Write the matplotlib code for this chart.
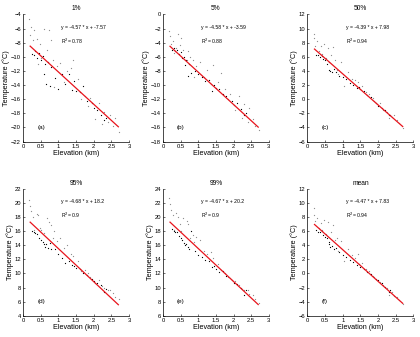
import matplotlib
matplotlib.use("Agg")
import matplotlib.pyplot as plt

plt.rcParams["font.family"] = ["Liberation Sans", "DejaVu Sans"]

# station elevations (km), two groups of stations
elev_black = [0.25,0.3,0.35,0.4,0.45,0.5,0.55,0.6,0.62,0.65,0.7,0.75,0.8,0.9,1.0,
              1.1,1.2,1.3,1.4,1.45,1.5,1.6,1.7,1.8,1.95,2.0,2.1,2.2,2.3,2.35]
elev_gray = [0.18,0.2,0.22,0.28,0.32,0.38,0.42,0.48,0.52,0.58,0.68,0.72,0.78,0.85,0.88,
             0.95,1.05,1.15,1.25,1.35,1.42,1.55,1.65,1.75,1.85,1.9,2.05,2.15,2.25,2.3,
             2.4,2.45,2.55,2.6,2.72]

titles = ["1%", "5%", "50%", "95%", "99%", "mean"]
letters = ["(a)", "(b)", "(c)", "(d)", "(e)", "(f)"]
slopes = [-4.57, -4.58, -4.39, -4.68, -4.67, -4.47]
intercepts = [-7.57, -3.59, 7.98, 18.2, 20.2, 7.83]
eq_text = ["y = -4.57 * x + -7.57", "y = -4.58 * x + -3.59", "y = -4.39 * x + 7.98",
           "y = -4.68 * x + 18.2", "y = -4.67 * x + 20.2", "y = -4.47 * x + 7.83"]
r2 = ["0.78", "0.88", "0.94", "0.9", "0.9", "0.94"]
ylims = [(-22, -4), (-18, 0), (-6, 12), (4, 22), (6, 24), (-6, 12)]

temp_black = [
    [-9.6,-9.7,-9.2,-10.1,-9.5,-10.4,-9.9,-12.5,-11.0,-13.8,-10.8,-14.2,-11.5,-13.0,-14.6,
     -12.4,-13.8,-12.5,-14.7,-13.4,-14.8,-15.0,-14.2,-16.3,-16.6,-17.2,-17.5,-18.3,-19.0,-18.6],
    [-5.0,-4.8,-5.2,-5.1,-5.6,-5.3,-6.2,-6.0,-7.2,-6.4,-8.7,-7.0,-8.3,-8.0,-8.4,
     -8.8,-9.4,-9.3,-10.8,-10.0,-10.4,-10.6,-11.3,-11.5,-12.2,-12.8,-12.6,-13.4,-14.2,-13.9],
    [6.3,6.2,6.0,6.1,5.7,5.5,5.0,5.2,4.2,4.0,3.8,4.3,3.9,3.3,3.2,
     2.8,2.3,2.0,1.6,1.7,1.5,1.1,0.6,0.3,-0.6,-0.9,-1.2,-1.6,-2.2,-2.3],
    [16.0,15.9,15.7,15.6,15.0,14.8,14.5,14.2,13.8,14.1,13.6,14.3,13.4,13.5,12.8,
     12.2,11.5,11.8,11.2,11.0,10.7,10.6,10.1,9.8,9.2,8.9,8.6,8.3,7.3,7.8],
    [18.3,18.0,17.8,17.9,17.3,17.0,16.8,16.3,16.0,16.2,15.8,15.5,18.0,15.2,14.6,
     14.3,13.9,13.7,12.9,13.0,12.6,12.2,12.3,11.7,11.1,10.6,10.5,10.0,9.0,9.6],
    [6.1,5.9,5.8,6.0,5.5,5.2,5.0,4.4,4.1,3.7,3.9,3.4,3.6,3.0,2.6,
     2.3,1.9,1.6,1.2,1.3,0.9,0.6,0.2,-0.1,-0.8,-1.0,-1.4,-1.9,-2.7,-2.4],
]
temp_gray = [
    [-4.7,-6.9,-5.8,-7.6,-6.2,-7.5,-11.0,-8.2,-10.2,-6.0,-9.0,-6.2,-7.6,-10.5,-14.3,
     -11.3,-10.9,-13.5,-12.0,-11.6,-10.5,-13.2,-16.0,-15.5,-17.0,-15.8,-18.8,-16.5,-19.5,-17.8,
     -19.2,-18.2,-19.8,-18.7,-20.6],
    [-2.3,-3.0,-4.2,-3.8,-5.5,-4.8,-2.7,-4.3,-3.4,-5.0,-6.4,-5.2,-6.0,-6.5,-8.9,
     -7.3,-6.7,-8.9,-7.9,-9.8,-7.2,-9.5,-8.3,-10.5,-12.0,-11.2,-13.5,-11.6,-14.6,-12.7,
     -15.2,-13.3,-14.8,-15.8,-16.3],
    [9.3,8.6,7.6,8.2,6.8,7.5,6.4,7.8,5.9,7.2,6.2,7.4,5.6,4.2,3.5,
     5.3,1.9,3.8,2.9,2.7,2.4,1.8,1.0,0.8,0.1,-0.2,-0.6,-1.5,-1.8,-2.6,
     -2.5,-2.2,-3.0,-3.4,-4.1],
    [20.4,19.6,18.8,18.0,16.2,18.4,18.3,16.5,16.2,15.7,17.9,17.3,16.8,15.0,16.0,
     14.6,15.0,13.6,14.0,12.7,12.5,11.7,10.3,10.5,10.0,9.5,8.7,9.0,8.2,7.9,
     7.7,7.6,7.2,6.6,6.4],
    [22.7,21.8,21.0,20.3,18.2,20.5,20.0,19.0,18.0,19.8,19.4,19.0,17.0,17.5,16.5,
     17.1,16.8,15.2,14.8,15.0,14.2,13.4,12.5,12.1,11.5,11.3,10.9,10.4,9.8,9.6,
     9.7,9.1,9.0,8.4,7.8],
    [9.2,8.3,7.4,7.9,6.4,7.2,6.2,7.6,5.6,7.3,5.9,6.8,4.8,5.0,3.2,
     4.6,1.8,3.5,2.6,2.2,2.8,1.5,0.6,0.4,-0.3,-0.5,-1.2,-1.6,-2.1,-3.0,
     -2.6,-3.2,-3.3,-3.8,-4.4],
]
fit_x = [0.2, 2.7]

fig = plt.figure(figsize=(4.2, 3.37), dpi=100)
lefts = [0.055, 0.388, 0.732]
bottoms = [0.58, 0.063]
fs = 4.2

for i in range(6):
    row, col = divmod(i, 3)
    ax = fig.add_axes([lefts[col], bottoms[row], 0.252, 0.377])
    ax.plot(elev_gray, temp_gray[i], ".", color="#8c8c8c", markersize=1.8, markeredgewidth=0)
    ax.plot(elev_black, temp_black[i], ".", color="black", markersize=1.8, markeredgewidth=0)
    fit_y = [slopes[i] * x + intercepts[i] for x in fit_x]
    ax.plot(fit_x, fit_y, color="#e8141c", linewidth=0.9)

    lo, hi = ylims[i]
    ax.set_xlim(0, 3)
    ax.set_ylim(lo, hi)
    ax.set_xticks([0, 0.5, 1, 1.5, 2, 2.5, 3])
    ax.set_xticklabels(["0", "0.5", "1", "1.5", "2", "2.5", "3"])
    ax.set_yticks(range(lo, hi + 1, 2))
    ax.tick_params(direction="in", length=1.5, width=0.4, labelsize=fs, pad=1.5)
    for s in ["top", "right"]:
        ax.spines[s].set_visible(False)
    for s in ["left", "bottom"]:
        ax.spines[s].set_linewidth(0.5)

    span = hi - lo
    ax.text(1.08, lo + 0.885 * span, eq_text[i], fontsize=fs - 0.5)
    ax.text(1.08, lo + 0.77 * span, "R$^2$= " + r2[i], fontsize=fs - 0.5)
    ax.text(0.4, lo + 0.1 * span, letters[i], fontsize=fs + 0.4)
    ax.set_title(titles[i], fontsize=fs + 0.6, pad=3)
    ax.set_xlabel("Elevation (km)", fontsize=fs + 1.0, labelpad=1)
    ax.set_ylabel("Temperature (\u00b0C)", fontsize=fs + 1.0, labelpad=0.5)

fig.savefig("out.png", dpi=100)
